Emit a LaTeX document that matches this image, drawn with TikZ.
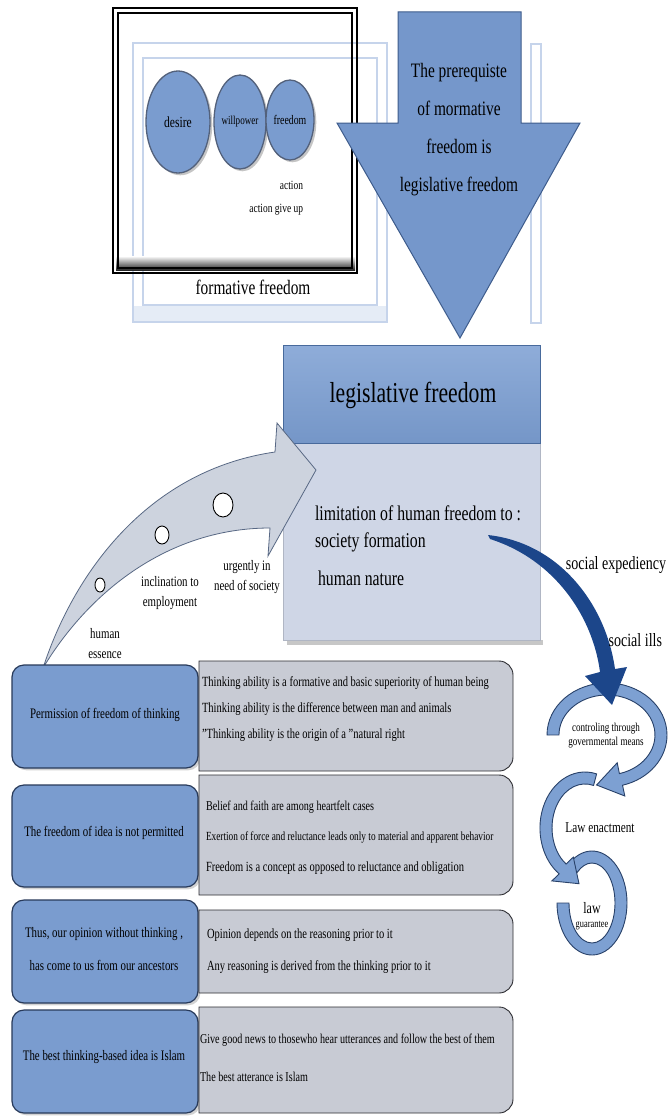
\documentclass[tikz,border=0pt]{standalone}
\usepackage{fontspec}
\setmainfont{Liberation Serif}[FakeStretch=0.75]
\usetikzlibrary{shapes.geometric,shadows}
\definecolor{boxblue}{RGB}{122,156,207}
\definecolor{boxedge}{RGB}{40,58,90}
\definecolor{arrowblue}{RGB}{117,151,203}
\definecolor{arrowedge}{RGB}{62,92,140}
\definecolor{headerblue}{RGB}{123,158,210}
\definecolor{headeredge}{RGB}{72,106,156}
\definecolor{bodygray}{RGB}{207,214,230}
\definecolor{boxgray}{RGB}{200,203,212}
\definecolor{grayedge}{RGB}{45,45,50}
\definecolor{frameblue}{RGB}{198,212,235}
\definecolor{curvefill}{RGB}{205,211,222}
\definecolor{curveedge}{RGB}{88,104,132}
\definecolor{darkarrow}{RGB}{28,70,138}
\definecolor{arcblue}{RGB}{125,160,210}
\definecolor{arcedge}{RGB}{40,65,105}
\newcommand\fsz[1]{\fontsize{#1}{#1}\selectfont}
\tikzset{
  lightframe/.style={draw=frameblue, line width=2pt},
  bluebox/.style={fill=boxblue, draw=boxedge, line width=1.2pt, rounded corners=12pt, drop shadow={opacity=0.35}},
  graybox/.style={fill=boxgray, draw=grayedge, line width=0.9pt},
  arcarrow/.style={fill=arcblue, draw=arcedge, line width=0.9pt},
  ball/.style={ellipse, fill=boxblue, draw=boxedge!80, line width=1.3pt, inner sep=0pt, drop shadow={opacity=0.45}},
  dot/.style={ellipse, fill=white, draw=black, line width=0.9pt, inner sep=0pt},
  txt/.style={inner sep=0pt, outer sep=0pt, text=black},
}
\begin{document}
\begin{tikzpicture}[x=1pt,y=-1pt]
\useasboundingbox (0,0) rectangle (668,1116);
\fill[white] (0,0) rectangle (668,1116);
% ---------- top-left frames
\fill[frameblue!45] (133,306) rectangle (387,322);
\draw[lightframe] (133,43) rectangle (387,322);
\draw[lightframe, line width=1.5pt] (143,58) rectangle (377,305);
\draw[lightframe, fill=white] (531,44) rectangle (541,323);
\shade[top color=white, bottom color=black!85] (116,256) rectangle (355,270);
\draw[black, line width=2pt] (113,8) rectangle (357,273);
\draw[black, line width=1.2pt] (118,13) rectangle (352,268);
% balls
\node[ball, minimum width=64pt, minimum height=102pt, font=\fsz{15.4}] (desire) at (178,122) {desire};
\node[ball, minimum width=50pt, minimum height=94pt, font=\fsz{12.1}] (will) at (240,122) {willpower};
\node[ball, minimum width=48pt, minimum height=80pt, font=\fsz{13.1}] (free) at (290,120) {freedom};
\node[txt, anchor=east, font=\fsz{12.6}] (act) at (303,185) {action};
\node[txt, anchor=east, font=\fsz{12.6}] (actgu) at (303,210) {action give up};
\node[txt, font=\fsz{20.5}] (formative) at (253,287) {formative freedom};
% ---------- down arrow
\filldraw[fill=arrowblue, draw=arrowedge, line width=1pt]
  (398,12) -- (521,12) -- (521,123) -- (580,123) -- (460,338) -- (337,123) -- (398,123) -- cycle;
\node[txt, align=center, font=\fontsize{20.5}{38}\selectfont] (prereq) at (459,130)
  {The prerequiste\\of mormative\\freedom is\\legislative freedom};
% ---------- legislative box
\fill[black!22] (287,640) rectangle (543,645);
\fill[bodygray] (283,443) rectangle (540,640);
\draw[bodygray!85!black, line width=0.5pt] (283,443) rectangle (540,640);
\shade[top color=headerblue!85!white, bottom color=headerblue!95!black, draw=headeredge, line width=1pt] (283,345) rectangle (540,443);
\node[txt, font=\fsz{28.9}] (legis) at (413,395) {legislative freedom};
\node[txt, anchor=west, font=\fsz{21}] (limit) at (315,513) {limitation of human freedom to :};
\node[txt, anchor=west, font=\fsz{21}] (society) at (315,542) {society formation};
\node[txt, anchor=west, font=\fsz{21}] (nature) at (318,578) {human nature};
% ---------- curved arrow
\filldraw[fill=curvefill, draw=curveedge, line width=0.8pt]
  (43,668) .. controls (75,570) and (150,470) .. (275,452)
  -- (277,423) -- (316,470) -- (268,556) -- (270,528)
  .. controls (170,528) and (90,590) .. (43,668) -- cycle;
\node[dot, minimum width=10pt, minimum height=14pt] (d1) at (100,585) {};
\node[dot, minimum width=14pt, minimum height=18pt] (d2) at (162,535) {};
\node[dot, minimum width=20pt, minimum height=24pt] (d3) at (223,505) {};
\node[txt, align=center, font=\fontsize{14.5}{20}\selectfont] (essence) at (105,644) {human\\essence};
\node[txt, align=center, font=\fontsize{14.5}{20}\selectfont] (inclin) at (170,593) {inclination to\\employment};
\node[txt, align=center, font=\fontsize{14.5}{20}\selectfont] (urgent) at (247,577) {urgently in\\need of society};
% ---------- rows
\foreach \t/\b in {665/768, 785/887, 900/1003, 1010/1113}
  \filldraw[bluebox] (12,\t) rectangle (198,\b);
\foreach \t/\b in {661/771, 775/895, 910/993, 1007/1113}
  \filldraw[graybox] (199,\t) -- (499,\t) arc[start angle=270, end angle=360, radius=14]
     -- (513,\b-14) arc[start angle=0, end angle=90, radius=14] -- (199,\b) -- cycle;
\node[txt, font=\fsz{14.5}] (l1) at (105,715) {Permission of freedom of thinking};
\node[txt, font=\fsz{14.5}] (l2) at (104,833) {The freedom of idea is not permitted};
\node[txt, align=center, font=\fontsize{14.5}{33}\selectfont] (l3) at (104,949) {Thus, our opinion without thinking ,\\has come to us from our ancestors};
\node[txt, font=\fsz{14.5}] (l4) at (104,1057) {The best thinking-based idea is Islam};
\node[txt, anchor=west, font=\fsz{14}] (r11) at (202,683) {Thinking ability is a formative and basic superiority of human being};
\node[txt, anchor=west, font=\fsz{14}] (r12) at (202,709) {Thinking ability is the difference between man and animals};
\node[txt, anchor=west, font=\fsz{14}] (r13) at (202,735) {"Thinking ability is the origin of a "natural right};
\node[txt, anchor=west, font=\fsz{13.5}] (r21) at (206,807) {Belief and faith are among heartfelt cases};
\node[txt, anchor=west, font=\fsz{12.4}] (r22) at (206,837) {Exertion of force and reluctance leads only to material and apparent behavior};
\node[txt, anchor=west, font=\fsz{14}] (r23) at (206,868) {Freedom is a concept as opposed to reluctance and obligation};
\node[txt, anchor=west, font=\fsz{14}] (r31) at (207,935) {Opinion depends on the reasoning prior to it};
\node[txt, anchor=west, font=\fsz{14}] (r32) at (207,967) {Any reasoning is derived from the thinking prior to it};
\node[txt, anchor=west, font=\fsz{13.5}] (r41) at (200,1040) {Give good news to thosewho hear utterances and follow the best of them};
\node[txt, anchor=west, font=\fsz{13.5}] (r42) at (200,1077) {The best atterance is Islam};
% ---------- circular arrows
\filldraw[arcarrow] (592,903) ++(230:35 and 52) arc[start angle=230, end angle=540, x radius=35, y radius=52]
  -- ++(12,0) arc[start angle=540, end angle=230, x radius=23, y radius=40] -- cycle;
\filldraw[arcarrow] (607,735) ++(-60,0) arc[start angle=180, end angle=435, x radius=60, y radius=52]
  -- (624.8,796) -- (596.6,785) -- (617.2,762.8) -- (619.4,773.6)
  arc[start angle=435, end angle=180, x radius=48, y radius=40] -- cycle;
\filldraw[arcarrow] (596.6,773.9) arc[start angle=285, end angle=125, x radius=45, y radius=56]
  -- (551.9,880.9) -- (579,883.7) -- (573.3,857.1) -- (566.1,864)
  arc[start angle=125, end angle=285, x radius=33, y radius=44] -- cycle;
% dark arrow
\fill[darkarrow] (488,535) .. controls (560,543) and (606,605) .. (615,669)
  -- (627,667) -- (612,705) -- (585,676) -- (600,672)
  .. controls (593,618) and (556,560) .. (490,539) -- cycle;
\node[txt, anchor=east, font=\fsz{18.7}] (expedi) at (666,565) {social expediency};
\node[txt, anchor=east, font=\fsz{18.7}] (ills) at (662,640) {social ills};
\node[txt, align=center, font=\fontsize{12.1}{14}\selectfont] (control) at (606,736) {controling through\\governmental means};
\node[txt, font=\fsz{15}] (enact) at (600,828) {Law enactment};
\node[txt, font=\fsz{15.9}] (law) at (592,908) {law};
\node[txt, font=\fsz{11.2}] (guar) at (592,926) {guarantee};
\end{tikzpicture}
\end{document}
